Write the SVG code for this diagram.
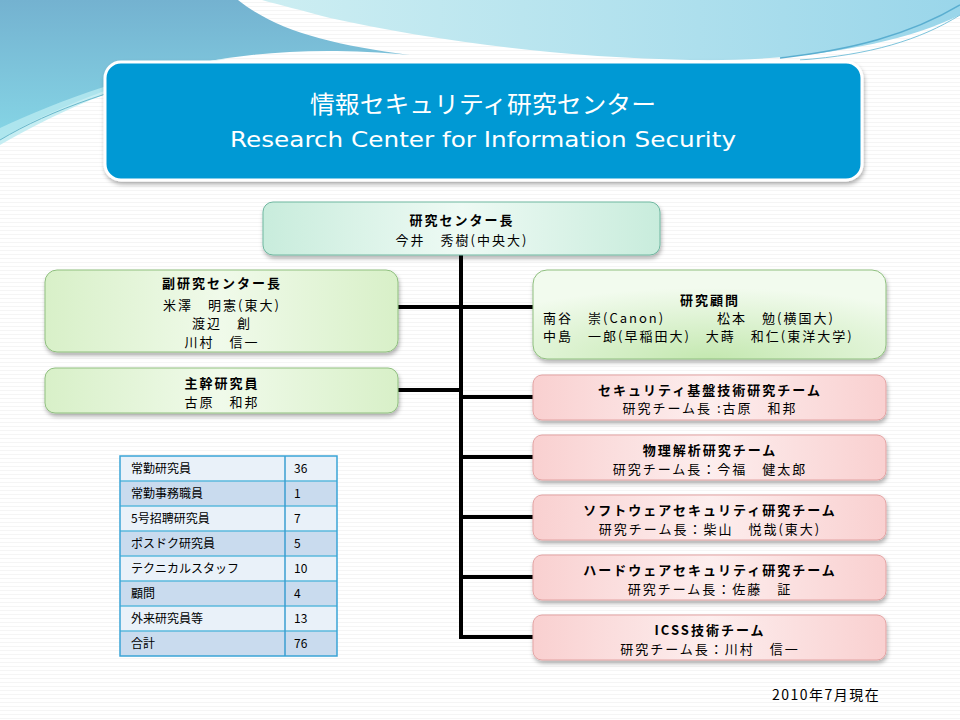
<svg xmlns="http://www.w3.org/2000/svg" width="960" height="720" viewBox="0 0 960 720">
<defs>
<style>
.jp{font-family:"Noto Sans CJK JP","Liberation Sans",sans-serif;font-size:13px;letter-spacing:2px;fill:#000;text-anchor:middle}
.st{text-anchor:start}
.b{font-weight:bold}
.tb{font-family:"Noto Sans CJK JP","Liberation Sans",sans-serif;font-size:12px;fill:#000}
.conn{stroke:#000;stroke-width:4;fill:none}
.gnode{fill:url(#gGreen);stroke:#8fbf7f;stroke-width:1}
.mnode{fill:url(#gMint);stroke:#6fb7a0;stroke-width:1}
.pnode{fill:url(#gPink);stroke:#e3a3a3;stroke-width:1}
.rowA{fill:#e9f1f9}
.rowB{fill:#c9dbee}
.tl{stroke:#5ab8dc;stroke-width:1.5}
</style>
<linearGradient id="gGreen" x1="0" y1="0" x2="1" y2="0">
<stop offset="0" stop-color="#d8f0c8"/><stop offset="0.5" stop-color="#f0faea"/><stop offset="1" stop-color="#d8f0c8"/>
</linearGradient>
<radialGradient id="gGreen2" cx="0.5" cy="1" r="0.8">
<stop offset="0" stop-color="#c4e8b0"/><stop offset="1" stop-color="#f2fbee"/>
</radialGradient>
<linearGradient id="gMint" x1="0" y1="0" x2="1" y2="0">
<stop offset="0" stop-color="#c8ecdc"/><stop offset="0.5" stop-color="#eefaf4"/><stop offset="1" stop-color="#c8ecdc"/>
</linearGradient>
<linearGradient id="gPink" x1="0" y1="0" x2="1" y2="0">
<stop offset="0" stop-color="#f9d0d0"/><stop offset="0.5" stop-color="#fdeeee"/><stop offset="1" stop-color="#f9d0d0"/>
</linearGradient>
<linearGradient id="gBlueL" x1="0" y1="0" x2="0" y2="1">
<stop offset="0" stop-color="#74b2d0"/><stop offset="1" stop-color="#86d6e6"/>
</linearGradient>
<linearGradient id="gBlueR" x1="0" y1="0" x2="1" y2="0">
<stop offset="0" stop-color="#cdeef2"/><stop offset="1" stop-color="#9ad6ea"/>
</linearGradient>
<pattern id="stripes" width="4" height="4" patternUnits="userSpaceOnUse">
<rect width="4" height="4" fill="#ffffff"/><rect y="2" width="4" height="1" fill="#f5f5f5"/>
</pattern>
<filter id="sh" x="-10%" y="-20%" width="120%" height="150%">
<feDropShadow dx="1" dy="3" stdDeviation="2" flood-color="#000" flood-opacity="0.3"/>
</filter>
</defs>

<rect width="960" height="720" fill="url(#stripes)"/>
<!-- decorative top -->
<path d="M0,0 H238 C275,30 330,45 410,55 C300,45 220,55 150,75 C90,95 40,115 0,140 Z" fill="url(#gBlueL)"/>
<path d="M0,128 C60,100 140,70 230,58 C140,75 60,110 0,145 Z" fill="#b8eaf0" opacity="0.8"/>
<path d="M262,0 H960 V15 C900,45 800,62 690,60 C560,58 430,40 330,18 C300,10 280,5 262,0 Z" fill="url(#gBlueR)"/>
<path d="M780,58 C850,50 910,35 960,5" stroke="#5aaed0" stroke-width="1.5" fill="none"/>
<path d="M800,60 C870,55 920,40 960,15" stroke="#7ec4dc" stroke-width="1" fill="none"/>
<path d="M0,140 C50,110 120,85 220,65" stroke="#6ab8cc" stroke-width="1" fill="none"/>

<!-- title -->
<g id="title">
<rect x="105" y="62" width="757" height="118" rx="16" fill="#0099d4" stroke="#ffffff" stroke-width="3" filter="url(#sh)"/>
<text x="483" y="113" font-family="Noto Sans CJK JP,Liberation Sans,sans-serif" font-size="24" fill="#fff" text-anchor="middle" textLength="346" lengthAdjust="spacingAndGlyphs">情報セキュリティ研究センター</text>
<text x="483" y="147" font-family="DejaVu Sans,Liberation Sans,sans-serif" font-size="22" fill="#fff" text-anchor="middle" textLength="506" lengthAdjust="spacingAndGlyphs">Research Center for Information Security</text>
</g>

<!-- connectors -->
<g id="connectors">
<line class="conn" x1="461" y1="255" x2="461" y2="639"/>
<line class="conn" x1="398" y1="307" x2="461" y2="307"/>
<line class="conn" x1="461" y1="307" x2="533" y2="307"/>
<line class="conn" x1="398" y1="390" x2="461" y2="390"/>
<line class="conn" x1="461" y1="397" x2="533" y2="397"/>
<line class="conn" x1="461" y1="457" x2="533" y2="457"/>
<line class="conn" x1="461" y1="517" x2="533" y2="517"/>
<line class="conn" x1="461" y1="577" x2="533" y2="577"/>
<line class="conn" x1="459" y1="637" x2="533" y2="637"/>
</g>

<g id="director">
<rect class="mnode" x="263" y="202" width="397" height="53" rx="10" filter="url(#sh)"/>
<text class="jp b" x="462" y="225">研究センター長</text>
<text class="jp" x="462" y="245">今井　秀樹(中央大)</text>
</g>

<g id="vice">
<rect class="gnode" x="45" y="270" width="353" height="82" rx="12" filter="url(#sh)"/>
<text class="jp b" x="222" y="288">副研究センター長</text>
<text class="jp" x="222" y="310">米澤　明憲(東大)</text>
<text class="jp" x="222" y="328">渡辺　創</text>
<text class="jp" x="222" y="347">川村　信一</text>
</g>

<g id="chief">
<rect class="gnode" x="45" y="368" width="353" height="45" rx="10" filter="url(#sh)"/>
<text class="jp b" x="222" y="388">主幹研究員</text>
<text class="jp" x="222" y="407">古原　和邦</text>
</g>

<g id="advisors">
<rect x="533" y="270" width="353" height="89" rx="14" fill="url(#gGreen2)" stroke="#8fbf7f" stroke-width="1" filter="url(#sh)"/>
<text class="jp b" x="710" y="305">研究顧問</text>
<text class="jp st" x="543" y="323">南谷　崇(Canon)</text>
<text class="jp st" x="717" y="323">松本　勉(横国大)</text>
<text class="jp st" x="543" y="341">中島　一郎(早稲田大)　大蒔　和仁(東洋大学)</text>
</g>

<g id="team1">
<rect class="pnode" x="533" y="375" width="353" height="45" rx="9" filter="url(#sh)"/>
<text class="jp b" x="710" y="395">セキュリティ基盤技術研究チーム</text>
<text class="jp" x="710" y="413">研究チーム長 :古原　和邦</text>
</g>
<g id="team2">
<rect class="pnode" x="533" y="435" width="353" height="45" rx="9" filter="url(#sh)"/>
<text class="jp b" x="710" y="455">物理解析研究チーム</text>
<text class="jp" x="710" y="474">研究チーム長：今福　健太郎</text>
</g>
<g id="team3">
<rect class="pnode" x="533" y="495" width="353" height="45" rx="9" filter="url(#sh)"/>
<text class="jp b" x="710" y="515">ソフトウェアセキュリティ研究チーム</text>
<text class="jp" x="710" y="534">研究チーム長：柴山　悦哉(東大)</text>
</g>
<g id="team4">
<rect class="pnode" x="533" y="555" width="353" height="45" rx="9" filter="url(#sh)"/>
<text class="jp b" x="710" y="575">ハードウェアセキュリティ研究チーム</text>
<text class="jp" x="710" y="594">研究チーム長：佐藤　証</text>
</g>
<g id="team5">
<rect class="pnode" x="533" y="615" width="353" height="45" rx="9" filter="url(#sh)"/>
<text class="jp b" x="710" y="635">ICSS技術チーム</text>
<text class="jp" x="710" y="654">研究チーム長：川村　信一</text>
</g>

<!-- staff table -->
<g id="staff-table">
<rect class="rowA" x="120" y="456" width="217" height="25"/>
<rect class="rowB" x="120" y="481" width="217" height="25"/>
<rect class="rowA" x="120" y="506" width="217" height="25"/>
<rect class="rowB" x="120" y="531" width="217" height="25"/>
<rect class="rowA" x="120" y="556" width="217" height="25"/>
<rect class="rowB" x="120" y="581" width="217" height="25"/>
<rect class="rowA" x="120" y="606" width="217" height="25"/>
<rect class="rowB" x="120" y="631" width="217" height="25"/>
<line class="tl" x1="120" y1="481" x2="337" y2="481"/>
<line class="tl" x1="120" y1="506" x2="337" y2="506"/>
<line class="tl" x1="120" y1="531" x2="337" y2="531"/>
<line class="tl" x1="120" y1="556" x2="337" y2="556"/>
<line class="tl" x1="120" y1="581" x2="337" y2="581"/>
<line class="tl" x1="120" y1="606" x2="337" y2="606"/>
<line class="tl" x1="120" y1="631" x2="337" y2="631"/>
<line x1="285" y1="456" x2="285" y2="656" stroke="#3a9ed0" stroke-width="1.5"/>
<rect x="120" y="456" width="217" height="200" fill="none" stroke="#3aa4d6" stroke-width="1.5"/>
<text class="tb" x="131" y="473">常勤研究員</text><text class="tb" x="294" y="473">36</text>
<text class="tb" x="131" y="498">常勤事務職員</text><text class="tb" x="294" y="498">1</text>
<text class="tb" x="131" y="523">5号招聘研究員</text><text class="tb" x="294" y="523">7</text>
<text class="tb" x="131" y="548">ポスドク研究員</text><text class="tb" x="294" y="548">5</text>
<text class="tb" x="131" y="573">テクニカルスタッフ</text><text class="tb" x="294" y="573">10</text>
<text class="tb" x="131" y="598">顧問</text><text class="tb" x="294" y="598">4</text>
<text class="tb" x="131" y="623">外来研究員等</text><text class="tb" x="294" y="623">13</text>
<text class="tb" x="131" y="648">合計</text><text class="tb" x="294" y="648">76</text>
</g>

<text x="772" y="700" font-family="Noto Sans CJK JP,Liberation Sans,sans-serif" font-size="14" letter-spacing="1.5" fill="#000">2010年7月現在</text>
</svg>
